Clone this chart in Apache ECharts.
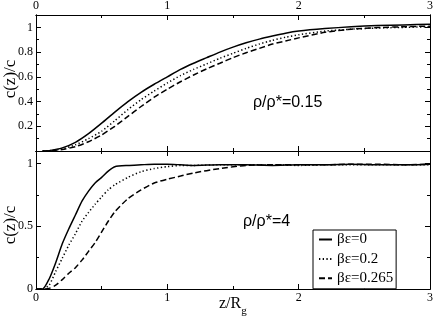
<!DOCTYPE html>
<html>
<head>
<meta charset="utf-8">
<script src="https://cdn.jsdelivr.net/npm/echarts@6/dist/echarts.min.js"></script>
<style>
html,body{margin:0;padding:0;background:#fff;}
#chart{width:436px;height:327px;}
</style>
</head>
<body>
<div id="chart"></div>
<script>
// ---- data ----
var seriesNames = ['\u03b2\u03b5=0', '\u03b2\u03b5=0.2', '\u03b2\u03b5=0.265'];
var xTicks = [0, 1, 2, 3];

// top panel: rho/rho* = 0.15
var topX = [0.05, 0.1, 0.2, 0.3, 0.4, 0.5, 0.6, 0.7, 0.8, 0.9, 1.0, 1.1, 1.2, 1.3, 1.4, 1.5, 1.6, 1.7, 1.8, 1.9, 2.0, 2.2, 2.4, 2.6, 2.8, 3.0];
var topSolid  = [0, 0.003, 0.025, 0.07, 0.14, 0.225, 0.315, 0.40, 0.475, 0.54, 0.60, 0.66, 0.71, 0.755, 0.80, 0.84, 0.875, 0.905, 0.93, 0.953, 0.97, 0.99, 1.005, 1.015, 1.02, 1.025];
var topDotted = [0, 0.002, 0.018, 0.05, 0.10, 0.16, 0.245, 0.335, 0.415, 0.485, 0.55, 0.61, 0.66, 0.705, 0.75, 0.79, 0.83, 0.865, 0.895, 0.92, 0.94, 0.97, 0.985, 0.995, 1.0, 1.005];
var topDashed = [0, 0.001, 0.012, 0.035, 0.075, 0.13, 0.2, 0.28, 0.36, 0.435, 0.50, 0.56, 0.615, 0.665, 0.71, 0.755, 0.795, 0.83, 0.865, 0.89, 0.915, 0.96, 0.985, 0.998, 1.005, 1.01];

// bottom panel: rho/rho* = 4
var botX = [0, 0.05, 0.1, 0.15, 0.2, 0.25, 0.3, 0.35, 0.4, 0.45, 0.5, 0.55, 0.6, 0.7, 0.8, 0.9, 1.0, 1.1, 1.2, 1.4, 1.6, 1.8, 2.0, 2.2, 2.4, 2.6, 2.8, 3.0];
var botSolid  = [0, 0, 0.08, 0.21, 0.36, 0.48, 0.59, 0.70, 0.78, 0.845, 0.89, 0.94, 0.975, 0.985, 0.99, 0.995, 0.995, 0.99, 0.985, 0.99, 0.99, 0.985, 0.99, 0.99, 0.995, 0.99, 0.99, 0.995];
var botDotted = [0, 0, 0.03, 0.14, 0.245, 0.35, 0.44, 0.54, 0.61, 0.675, 0.735, 0.79, 0.83, 0.89, 0.935, 0.96, 0.975, 0.985, 0.985, 0.99, 0.99, 0.99, 0.985, 0.99, 0.99, 0.99, 0.99, 0.99];
var botDashed = [0, 0, 0.005, 0.03, 0.075, 0.125, 0.17, 0.23, 0.30, 0.37, 0.455, 0.54, 0.615, 0.72, 0.79, 0.845, 0.875, 0.90, 0.925, 0.96, 0.985, 0.99, 0.99, 0.99, 0.995, 0.995, 0.99, 0.995];

function pairs(xs, ys){ return xs.map(function(x,i){ return [x, ys[i]]; }); }

var SERIF = '"Liberation Serif", "DejaVu Serif", serif';
var SANS = '"Liberation Sans", Arial, sans-serif';
var lineCol = '#000';

function xAx(grid, pos, interval, len, labels){
  return {
    type:'value', gridIndex:grid, position:pos, min:0, max:3, interval:interval,
    axisLine:{show:true, onZero:false, lineStyle:{color:lineCol, width:1}},
    axisTick:{show:true, inside:true, length:len, lineStyle:{color:lineCol, width:1}},
    axisLabel:{show:labels, color:'#000', fontFamily:SERIF, fontSize:12, margin:3},
    splitLine:{show:false}
  };
}
function yAx(grid, pos, interval, len, labels){
  return {
    type:'value', gridIndex:grid, position:pos, min:0, max:1.1, interval:interval,
    axisLine:{show:true, onZero:false, lineStyle:{color:lineCol, width:1}},
    axisTick:{show:true, inside:true, length:len, lineStyle:{color:lineCol, width:1}},
    axisLabel:{show:labels, color:'#000', fontFamily:SERIF, fontSize:12, margin:3,
      showMaxLabel:false, showMinLabel:(grid===1),
      formatter:function(v){ return String(+v.toFixed(2)); }},
    splitLine:{show:false}
  };
}

var styles = [
  {type:'solid', width:1.5},
  {type:[1.3, 2.4], width:1.5},
  {type:[6, 3], width:1.5}
];

var topData = [topSolid, topDotted, topDashed];
var botData = [botSolid, botDotted, botDashed];
var series = [];
for (var i=0;i<3;i++){
  series.push({name:seriesNames[i], type:'line', xAxisIndex:0, yAxisIndex:0, symbol:'none', smooth:0.2,
    lineStyle:{color:'#000', width:styles[i].width, type:styles[i].type}, itemStyle:{color:'#000'},
    data:pairs(topX, topData[i]), z:3});
}
for (var j=0;j<3;j++){
  series.push({name:seriesNames[j], type:'line', xAxisIndex:4, yAxisIndex:4, symbol:'none', smooth:0.2,
    lineStyle:{color:'#000', width:styles[j].width, type:styles[j].type}, itemStyle:{color:'#000'},
    data:pairs(botX, botData[j]), z:3});
}

var option = {
  animation:false,
  backgroundColor:'#fff',
  grid:[
    {left:36, top:13, width:395, height:138},
    {left:36, top:151, width:395, height:138}
  ],
  xAxis:[
    xAx(0,'bottom',1,5,false), xAx(0,'top',1,5,true), xAx(0,'bottom',0.5,3,false), xAx(0,'top',0.5,3,false),
    xAx(1,'bottom',1,5,true), xAx(1,'top',1,5,false), xAx(1,'bottom',0.5,3,false), xAx(1,'top',0.5,3,false)
  ],
  yAxis:[
    yAx(0,'left',0.2,5,true), yAx(0,'right',0.2,5,false), yAx(0,'left',0.1,3,false), yAx(0,'right',0.1,3,false),
    yAx(1,'left',0.5,5,true), yAx(1,'right',0.5,5,false), yAx(1,'left',0.25,3,false), yAx(1,'right',0.25,3,false)
  ],
  legend:{
    data:seriesNames, orient:'vertical', left:313, top:230,
    backgroundColor:'#fff', borderColor:'#000', borderWidth:1, borderRadius:0,
    padding:[2,3,3,5], itemGap:4.4, itemWidth:13, itemHeight:14,
    itemStyle:{opacity:0, color:'rgba(0,0,0,0)', borderWidth:0},
    textStyle:{fontFamily:SERIF, fontSize:15, color:'#000', lineHeight:14, padding:[0,0,0,0]},
    selectedMode:false
  },
  graphic:[
    {type:'text', x:11, y:79, rotation:Math.PI/2, style:{text:'c(z)/c', fontFamily:SERIF, fontSize:17, fill:'#000', align:'center', verticalAlign:'middle'}},
    {type:'text', x:11, y:225, rotation:Math.PI/2, style:{text:'c(z)/c', fontFamily:SERIF, fontSize:17, fill:'#000', align:'center', verticalAlign:'middle'}},
    {type:'text', x:253, y:103, style:{text:'\u03c1/\u03c1*=0.15', fontFamily:SANS, fontSize:16, fill:'#000', verticalAlign:'middle'}},
    {type:'text', x:243, y:222, style:{text:'\u03c1/\u03c1*=4', fontFamily:SANS, fontSize:16, fill:'#000', verticalAlign:'middle'}},
    {type:'text', x:219, y:296, style:{text:'{a|z/R}{b|g}', fontFamily:SERIF, fill:'#000',
      rich:{a:{fontFamily:SERIF, fontSize:16, fill:'#000', verticalAlign:'top'}, b:{fontFamily:SERIF, fontSize:11, fill:'#000', padding:[10,0,0,0]}}}}
  ],
  series:series
};

var chart = echarts.init(document.getElementById('chart'), null, {renderer:'canvas'});
chart.setOption(option);
</script>
</body>
</html>
